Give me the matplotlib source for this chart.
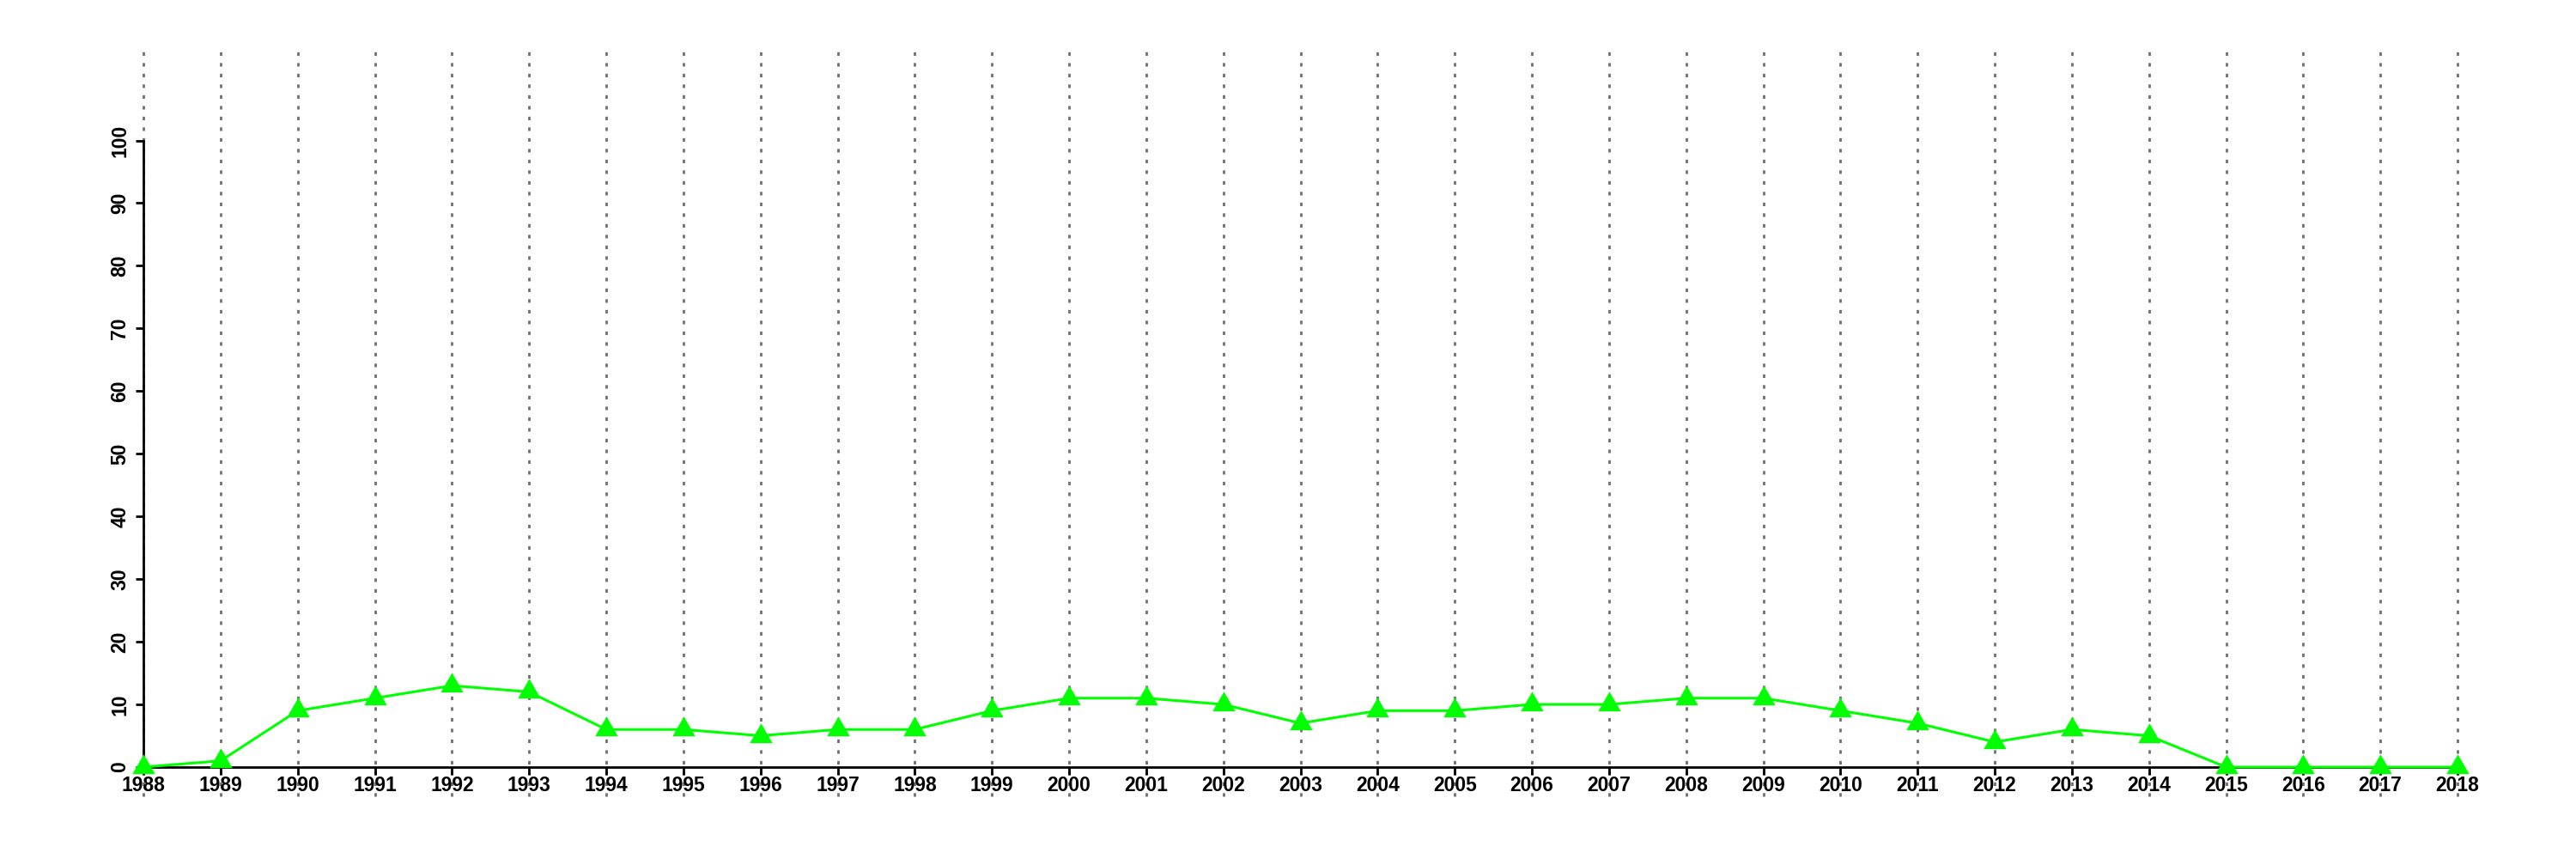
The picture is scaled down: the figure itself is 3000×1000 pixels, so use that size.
import matplotlib
matplotlib.use("Agg")
import matplotlib.pyplot as plt
import numpy as np

years = list(range(1988, 2019))
values = [0, 1, 9, 11, 13, 12, 6, 6, 5, 6, 6, 9, 11, 11, 10, 7, 9, 9, 10, 10,
          11, 11, 9, 7, 4, 6, 5, 0, 0, 0, 0]
yticks = list(range(0, 101, 10))

plt.rcParams['font.family'] = ['Liberation Sans', 'DejaVu Sans']

# equilateral triangle centred on its centroid
tri = [(0, 0.577), (-0.5, -0.289), (0.5, -0.289), (0, 0.577)]

fig = plt.figure(figsize=(30, 10), dpi=100)
ax = fig.add_axes([0.0557, 0.107, 0.8983, 0.7295])

# vertical dotted lines, running past the plot area
ax.vlines(years, -4.7, 115.3, colors="#707070", linestyles=(0, (1.5, 3)),
          linewidth=2, clip_on=False, zorder=1)

ax.plot(years, values, "-", color="#00ff00", lw=2.2, marker=tri,
        markersize=22, markeredgewidth=0, clip_on=False, zorder=3)

ax.set_xlim(1988, 2018)
ax.set_ylim(0, 100)
ax.set_xticks(years)
ax.set_yticks(yticks)
ax.set_xticklabels([str(y) for y in years], fontsize=16.5, fontweight="bold")
ax.set_yticklabels([str(v) for v in yticks], fontsize=16.5, fontweight="bold",
                   rotation=90, va="center")
ax.tick_params(axis="both", length=6.5, width=2, direction="out")
ax.tick_params(axis="x", pad=1)
ax.tick_params(axis="y", pad=5)

for s in ["top", "right"]:
    ax.spines[s].set_visible(False)
for s in ["left", "bottom"]:
    ax.spines[s].set_linewidth(2)
    ax.spines[s].set_zorder(2)

fig.savefig("out.png", dpi=100)
